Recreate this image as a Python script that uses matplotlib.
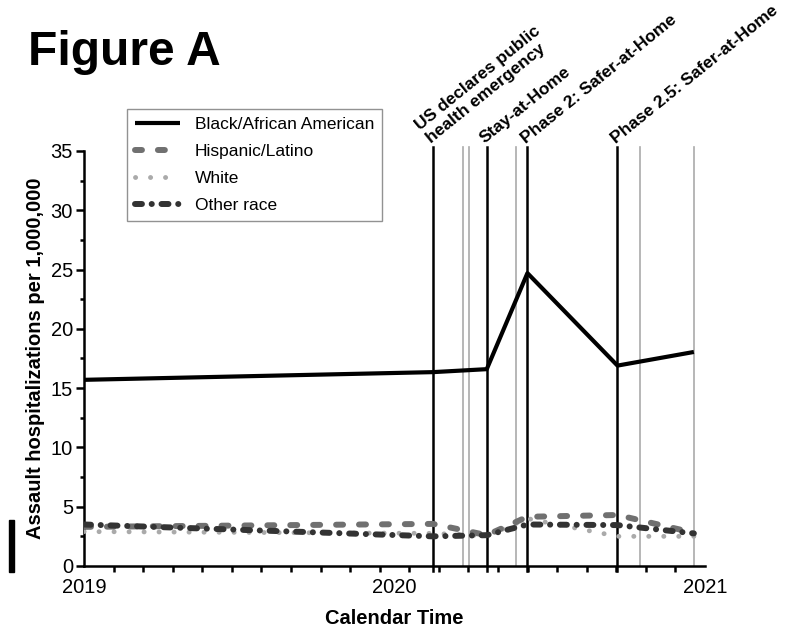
import matplotlib
matplotlib.use("Agg")
import matplotlib.pyplot as plt
from matplotlib.patches import Rectangle
import numpy as np

plt.rcParams["font.family"] = ["Liberation Sans", "DejaVu Sans"]
plt.rcParams["lines.scale_dashes"] = False

# Time points (decimal years) where the series change
t = [2019.0, 2020.124, 2020.297, 2020.428, 2020.718, 2020.964]

black = [15.7, 16.35, 16.6, 24.7, 16.9, 18.05]
hispanic = [3.3, 3.55, 2.6, 4.15, 4.3, 2.8]
white = [2.9, 2.75, 2.55, 4.0, 2.5, 2.5]
other = [3.5, 2.5, 2.6, 3.5, 3.45, 2.75]

# Policy event lines
event_black = [2020.124, 2020.297, 2020.428, 2020.718]
event_grey = [2020.221, 2020.239, 2020.392, 2020.792, 2020.964]
event_labels = [
    "US declares public\nhealth emergency",
    "Stay-at-Home",
    "Phase 2: Safer-at-Home",
    "Phase 2.5: Safer-at-Home",
]

fig = plt.figure(figsize=(7.86, 6.27), dpi=100)
ax = fig.add_axes([0.1069, 0.0973, 0.7901, 0.6619])

for x in event_grey:
    ax.plot([x, x], [0, 35.3], color="#aaaaaa", lw=1.2, clip_on=False, zorder=1)
for x in event_black:
    ax.plot([x, x], [-0.4, 35.3], color="black", lw=1.8, clip_on=False, zorder=2)

ax.plot(t, black, color="black", lw=3, solid_capstyle="butt",
        label="Black/African American", zorder=5)
ax.plot(t, hispanic, color="#707070", lw=4.3, dashes=(5, 11.5),
        dash_capstyle="round", label="Hispanic/Latino", zorder=4)
ax.plot(t, white, color="#aaaaaa", lw=3.5, dashes=(0.1, 10.7),
        dash_capstyle="round", label="White", zorder=3)
ax.plot(t, other, color="#333333", lw=4.3, dashes=(5, 7, 0.1, 7),
        dash_capstyle="round", label="Other race", zorder=4)

for x, lab in zip(event_black, event_labels):
    ax.text(x, 35.4, lab, rotation=39, rotation_mode="anchor",
            ha="left", va="bottom", fontsize=12.5, fontweight="bold",
            linespacing=1.2)

ax.set_xlim(2019, 2021)
ax.set_ylim(0, 35)
ax.set_xticks([2019, 2020, 2021])
ax.set_xticklabels(["2019", "2020", "2021"])
ax.set_xticks(np.linspace(2019, 2021, 22), minor=True)
ax.set_yticks(np.arange(0, 36, 5))
ax.set_yticks(np.arange(0, 36, 2.5), minor=True)
ax.tick_params(axis="x", which="major", length=0, labelsize=14.5, pad=9)
ax.tick_params(axis="x", which="minor", length=4, width=1.8)
ax.tick_params(axis="y", which="major", length=5.5, width=1.8, labelsize=14.5, pad=2.5)
ax.tick_params(axis="y", which="minor", length=3, width=1.8)

for s in ["top", "right"]:
    ax.spines[s].set_visible(False)
for s in ["left", "bottom"]:
    ax.spines[s].set_linewidth(1.8)

ax.set_xlabel("Calendar Time", fontsize=14.5, fontweight="bold", labelpad=8)
ax.set_ylabel("Assault hospitalizations per 1,000,000", fontsize=14.5,
              fontweight="bold", labelpad=4)

leg = ax.legend(loc="upper left", bbox_to_anchor=(0.1616, 0.826),
                bbox_transform=fig.transFigure, borderaxespad=0,
                fontsize=12.5, handlelength=2.6, handletextpad=0.85,
                labelspacing=0.68, fancybox=False, frameon=True,
                borderpad=0.45)
leg.get_frame().set_edgecolor("#777777")
leg.get_frame().set_linewidth(1.0)

fig.text(0.036, 0.897, "Figure A", fontsize=34.5, fontweight="bold",
         ha="left", va="baseline")

fig.patches.append(Rectangle((0.011, 0.087), 0.007, 0.083,
                             transform=fig.transFigure, color="black"))

fig.savefig("out.png", dpi=100)
